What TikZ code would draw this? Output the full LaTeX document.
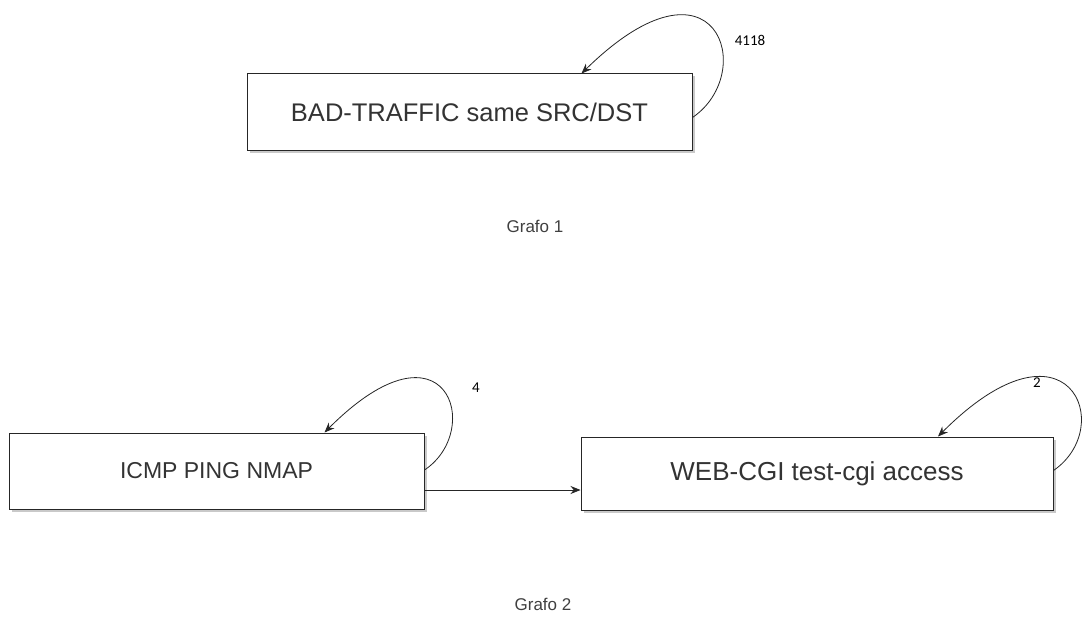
\documentclass[tikz,border=0pt]{standalone}
\usepackage{fontspec}
\setmainfont{Liberation Sans}
\newfontfamily\lblfont{Carlito}
\usetikzlibrary{arrows.meta,shadows,calc}
\begin{document}
\begin{tikzpicture}[x=1pt,y=-1pt,
  statebox/.style={draw=black!85,line width=1pt,fill=white,rectangle,inner sep=0pt,
    font=\fontsize{24}{28}\selectfont,text=black!80,
    drop shadow={shadow xshift=2.5pt,shadow yshift=-2.5pt,fill=black!35,opacity=0.6}},
  edge/.style={draw=black!85,line width=0.8pt,-{Stealth[length=10pt,width=8pt]}},
  cnt/.style={font=\lblfont\fontsize{15}{17}\selectfont,text=black},
  captext/.style={font=\fontsize{17}{19}\selectfont,text=black!75}]
\useasboundingbox[fill=white] (0,0) rectangle (1087,628);
% Grafo 1
\node[statebox,minimum width=445pt,minimum height=77pt,font=\fontsize{25.5}{29}\selectfont] (b1) at (469.5,112.5) {BAD-TRAFFIC same SRC/DST};
\coordinate (b1s) at ([yshift=-5pt]b1.east);
\coordinate (b1e) at ([xshift=112pt]b1.north);
\draw[edge] (b1s) .. controls +(66,-45) and +(135,-132) .. (b1e);
\node[cnt] (l1) at (750,40) {4118};
\node[captext] (g1) at (535,226) {Grafo 1};
% Grafo 2
\node[statebox,minimum width=415pt,minimum height=76pt,font=\fontsize{23}{27}\selectfont] (b2) at (216.5,471) {ICMP PING NMAP};
\node[statebox,minimum width=472pt,minimum height=73pt,font=\fontsize{26}{30}\selectfont] (b3) at (817,473.5) {WEB-CGI test-cgi access};
\coordinate (b2s) at ([yshift=1pt]b2.east);
\coordinate (b2e) at ([xshift=108pt]b2.north);
\draw[edge] (b2s) .. controls +(60,-40) and +(122,-122) .. (b2e);
\coordinate (b3s) at ([yshift=3pt]b3.east);
\coordinate (b3e) at ([xshift=121pt]b3.north);
\draw[edge] (b3s) .. controls +(64,-44) and +(130,-130) .. (b3e);
\coordinate (a1) at ([yshift=-19pt]b2.east);
\draw[edge] (a1) -- (a1 -| b3.west);
\node[cnt] (l2) at (476,388) {4};
\node[cnt] (l3) at (1037,383) {2};
\node[captext] (g2) at (543,604) {Grafo 2};
\end{tikzpicture}
\end{document}
